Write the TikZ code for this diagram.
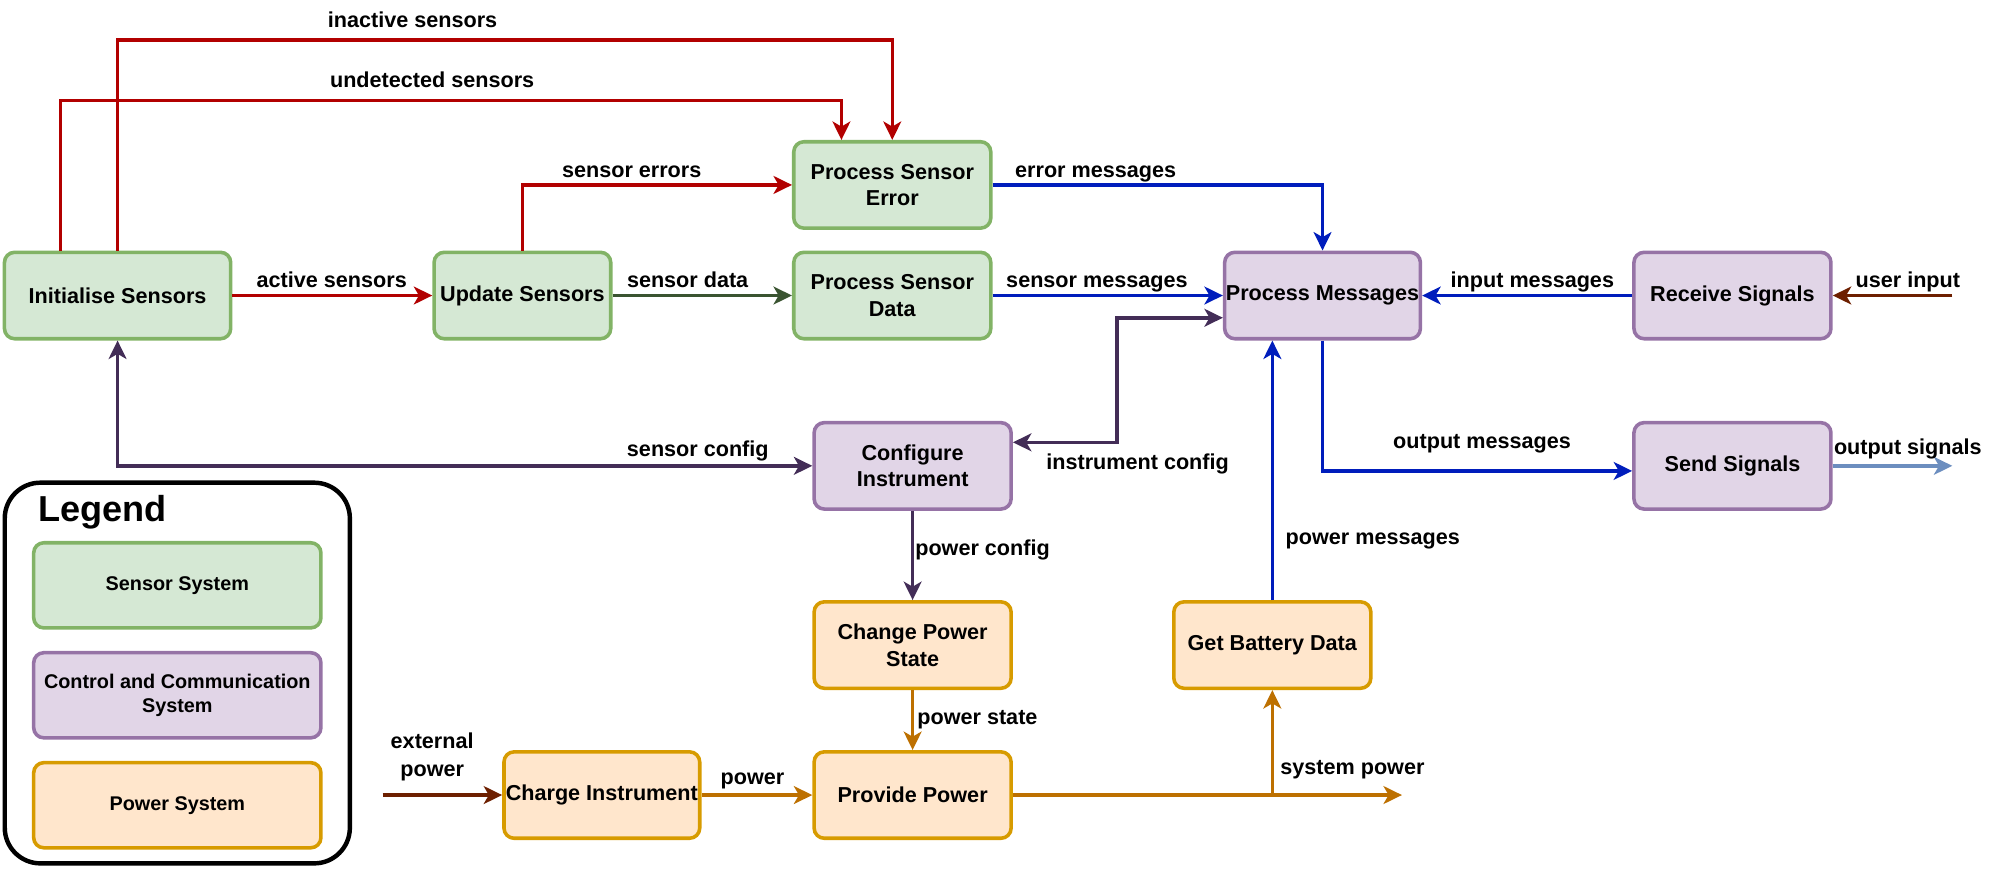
\documentclass[tikz,border=0pt]{standalone}
\usepackage{fontspec}
\setmainfont{Liberation Sans}
\usetikzlibrary{arrows.meta}
\definecolor{gfill}{HTML}{D5E8D4}
\definecolor{gline}{HTML}{82B366}
\definecolor{pfill}{HTML}{E1D5E7}
\definecolor{pline}{HTML}{9673A6}
\definecolor{ofill}{HTML}{FFE6CC}
\definecolor{oline}{HTML}{D79B00}
\definecolor{ered}{HTML}{B20000}
\definecolor{egreen}{HTML}{3A5431}
\definecolor{eblue}{HTML}{001DBC}
\definecolor{epurple}{HTML}{432D57}
\definecolor{eorange}{HTML}{BD7000}
\definecolor{ebrown}{HTML}{6D1F00}
\definecolor{elblue}{HTML}{6C8EBF}
\begin{document}
\begin{tikzpicture}[x=1pt,y=-1pt,
 box/.style={rounded corners=8pt,line width=2.8pt,minimum height=68pt,inner sep=0pt,align=center,font=\fontsize{17pt}{21pt}\selectfont\bfseries},
 gbox/.style={box,draw=gline,fill=gfill},
 pbox/.style={box,draw=pline,fill=pfill},
 obox/.style={box,draw=oline,fill=ofill},
 lbox/.style={rounded corners=8pt,line width=2.8pt,minimum width=226pt,minimum height=67pt,inner sep=0pt,align=center,font=\fontsize{15.6pt}{19pt}\selectfont\bfseries},
 conn/.style={line width=2.8pt,-{Stealth[length=14.5pt,width=14pt,inset=4pt]}},
 dconn/.style={line width=2.8pt,{Stealth[length=14.5pt,width=14pt,inset=4pt]}-{Stealth[length=14.5pt,width=14pt,inset=4pt]}},
 lbl/.style={inner sep=0pt,anchor=base,font=\fontsize{17pt}{21.5pt}\selectfont\bfseries},
]
\useasboundingbox (0,0) rectangle (1568,683);

% legend
\node[draw=black,line width=3.5pt,rounded corners=28pt,minimum width=271.5pt,minimum height=299.5pt,inner sep=0pt] (legend) at (139.5,529.5) {};
\node[font=\fontsize{28.4pt}{34pt}\selectfont\bfseries,anchor=base west,inner sep=0pt] (legendtitle) at (30,410.5) {Legend};
\node[lbox,draw=gline,fill=gfill] (lg1) at (139.5,460.5) {Sensor System};
\node[lbox,draw=pline,fill=pfill] (lg2) at (139.5,547) {Control and Communication\\System};
\node[lbox,draw=oline,fill=ofill] (lg3) at (139.5,633.5) {Power System};

% nodes
\node[gbox,minimum width=178pt] (init) at (92.5,232.5) {Initialise Sensors};
\node[gbox,minimum width=139pt] (update) at (411,232.5) {Update Sensors};
\node[gbox,minimum width=155pt] (pse) at (702,145.5) {Process Sensor\\Error};
\node[gbox,minimum width=155pt] (psd) at (702,232.5) {Process Sensor\\Data};
\node[pbox,minimum width=154pt] (pm) at (1040.5,232.5) {Process Messages};
\node[pbox,minimum width=155pt] (rs) at (1363,232.5) {Receive Signals};
\node[pbox,minimum width=155pt] (ci) at (718,366.5) {Configure\\Instrument};
\node[pbox,minimum width=155pt] (ss) at (1363,366.5) {Send Signals};
\node[obox,minimum width=155pt] (cps) at (718,507.5) {Change Power\\State};
\node[obox,minimum width=155pt] (gbd) at (1001,507.5) {Get Battery Data};
\node[obox,minimum width=154pt] (chg) at (473.5,625.5) {Charge Instrument};
\node[obox,minimum width=155pt] (pp) at (718,625.5) {Provide Power};

% free ends
\coordinate (uin) at (1536,232.5);
\coordinate (osig) at (1536,366.5);
\coordinate (ext) at (301,625.5);
\coordinate (spend) at (1103,625.5);
\coordinate (spj) at (gbd.south |- pp.east);

% connectors
\draw[conn,ered] (init) -- (update);
\draw[conn,egreen] (update) -- (psd);
\draw[conn,ered] (update.north) |- (pse.west);
\draw[conn,ered] ([xshift=-45pt]init.north) -- (47.5,79) -| ([xshift=-40pt]pse.north);
\draw[conn,ered] (init.north) -- (92.5,31.5) -| (pse.north);
\draw[conn,eblue] (pse.east) -| (pm.north);
\draw[conn,eblue] (psd) -- (pm);
\draw[conn,eblue] (rs) -- (pm);
\draw[conn,ebrown] (uin) -- (rs);
\draw[conn,eblue] (pm.south) |- ([yshift=-4pt]ss.west);
\draw[conn,elblue] (ss) -- (osig);
\draw[dconn,epurple] ([yshift=18.5pt]ci.east) -- (879,348) |- ([yshift=-17.5pt]pm.west);
\draw[dconn,epurple] (init.south) |- (ci.west);
\draw[conn,epurple] (ci) -- (cps);
\draw[conn,eorange] (cps) -- (pp);
\draw[conn,ebrown] (ext) -- (chg);
\draw[conn,eorange] (chg) -- (pp);
\draw[conn,eorange] (pp) -- (spend);
\draw[conn,eorange] (spj) -- (gbd.south);
\draw[conn,eblue] (gbd) -- (gbd.north |- pm.south);

% labels
\node[lbl] (l1) at (324.6,22) {inactive sensors};
\node[lbl] (l2) at (340,69) {undetected sensors};
\node[lbl] (l3) at (497,140) {sensor errors};
\node[lbl] (l4) at (261,226) {active sensors};
\node[lbl] (l5) at (541,226) {sensor data};
\node[lbl] (l6) at (862,140) {error messages};
\node[lbl] (l7) at (863,226) {sensor messages};
\node[lbl] (l8) at (1205.6,226) {input messages};
\node[lbl] (l9) at (1501,226) {user input};
\node[lbl] (l10) at (549,359) {sensor config};
\node[lbl] (l11) at (895,369) {instrument config};
\node[lbl] (l12) at (1166,353) {output messages};
\node[lbl] (l13) at (1501,357.5) {output signals};
\node[lbl] (l14) at (773,437) {power config};
\node[lbl] (l15) at (1080,428) {power messages};
\node[lbl] (l16) at (769,570) {power state};
\node[lbl] (l17) at (592,617) {power};
\node[lbl] (l18) at (1064,609) {system power};
\node[inner sep=0pt,align=center,font=\fontsize{17pt}{21.5pt}\selectfont\bfseries] (l19) at (340,595.4) {external\\power};
\end{tikzpicture}
\end{document}
